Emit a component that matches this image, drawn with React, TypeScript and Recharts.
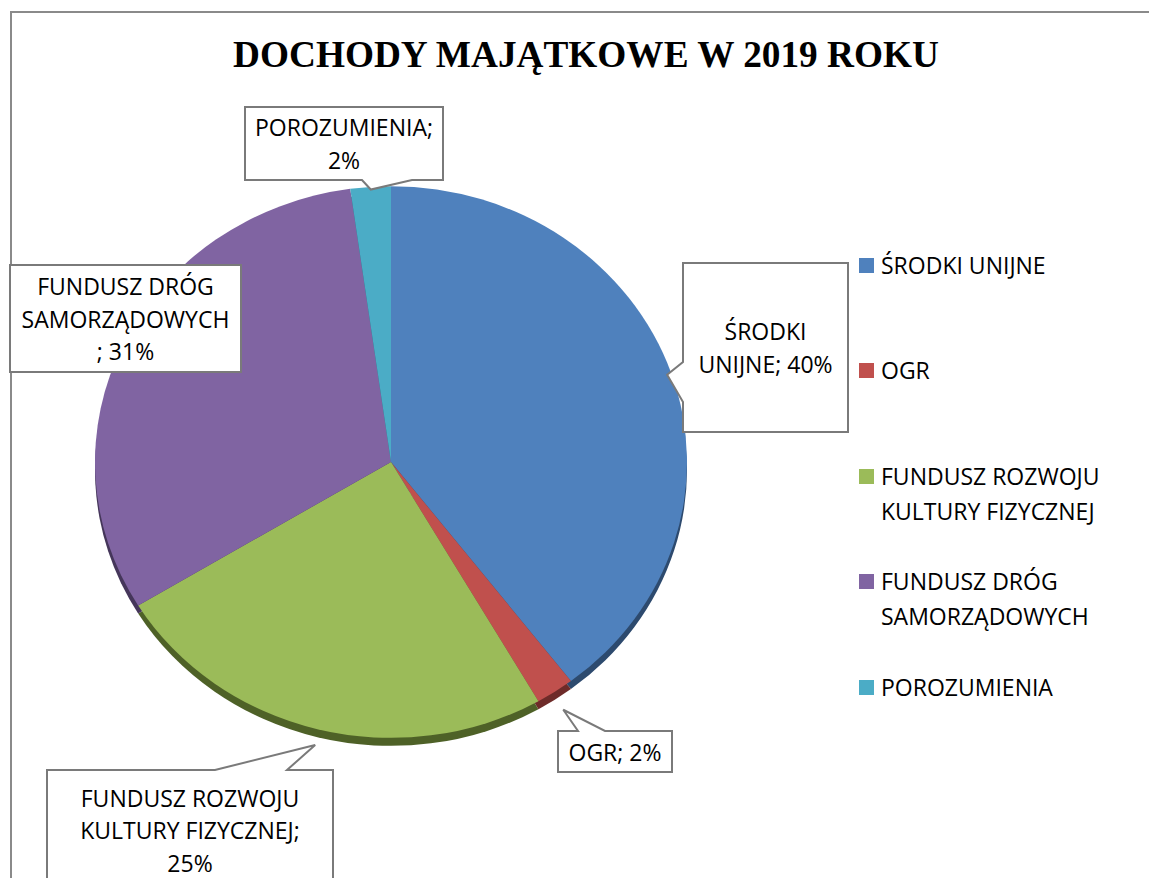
import React from "react";
import { Cell, Legend, Pie, PieChart } from "recharts";

// Dochody majątkowe 2019 — udziały źródeł
const CATEGORIES = [
  "ŚRODKI UNIJNE",
  "OGR",
  "FUNDUSZ ROZWOJU KULTURY FIZYCZNEJ",
  "FUNDUSZ DRÓG SAMORZĄDOWYCH",
  "POROZUMIENIA",
];
const VALUES = [39.6, 2.1, 24.6, 31.5, 2.2];
const COLORS = ["#4F81BD", "#C0504D", "#9BBB59", "#8064A2", "#4BACC6"];
const EDGE_COLORS = ["#2D4A6E", "#6E2B29", "#4E6127", "#45365A", "#2A6878"];

const LEGEND_LINES = [
  ["ŚRODKI UNIJNE"],
  ["OGR"],
  ["FUNDUSZ ROZWOJU", "KULTURY FIZYCZNEJ"],
  ["FUNDUSZ DRÓG", "SAMORZĄDOWYCH"],
  ["POROZUMIENIA"],
];
// "{p}" = procent liczony z VALUES
const DATA_LABEL_LINES = [
  ["ŚRODKI", "UNIJNE; {p}"],
  ["OGR; {p}"],
  ["FUNDUSZ ROZWOJU", "KULTURY FIZYCZNEJ;", "{p}"],
  ["FUNDUSZ DRÓG", "SAMORZĄDOWYCH", "; {p}"],
  ["POROZUMIENIA;", "{p}"],
];

const TITLE = "DOCHODY MAJĄTKOWE W 2019 ROKU";

const data = CATEGORIES.map((name, i) => ({ name, value: VALUES[i] }));
const total = VALUES.reduce((a, b) => a + b, 0);

// layout
const W = 1149;
const H = 878;
const CX = 391;
const CY = 462;
const R = 296;
const K = 0.932; // spłaszczenie (efekt 3D)
const DEPTH = 8;
const FONT = "'Open Sans', 'Noto Sans', sans-serif";
const FS = 23;
const LH = 32.5;

type Side = "left" | "top" | "bottom" | "right" | null;
interface Box {
  x: number;
  y: number;
  w: number;
  h: number;
  side: Side;
  b: number[];
  tipR: number;
}
const LABEL_BOXES: Box[] = [
  { x: 683, y: 263, w: 165, h: 169, side: "left", b: [362, 402], tipR: 0.985 },
  { x: 558, y: 731, w: 114, h: 41, side: "top", b: [578, 605], tipR: 1.05 },
  { x: 47, y: 770, w: 286, h: 120, side: "top", b: [215, 287], tipR: 1.03 },
  { x: 10, y: 265, w: 231, h: 107, side: null, b: [0, 0], tipR: 1 },
  { x: 245, y: 107, w: 198, h: 73, side: "bottom", b: [362, 412], tipR: 0.99 },
];

function calloutPath(bx: Box, ax: number, ay: number): string {
  const x0 = bx.x;
  const y0 = bx.y;
  const x1 = bx.x + bx.w;
  const y1 = bx.y + bx.h;
  const [b0, b1] = bx.b;
  let d = `M${x0},${y0}`;
  if (bx.side === "top") d += ` L${b0},${y0} L${ax},${ay} L${b1},${y0}`;
  d += ` L${x1},${y0}`;
  if (bx.side === "right") d += ` L${x1},${b0} L${ax},${ay} L${x1},${b1}`;
  d += ` L${x1},${y1}`;
  if (bx.side === "bottom") d += ` L${b1},${y1} L${ax},${ay} L${b0},${y1}`;
  d += ` L${x0},${y1}`;
  if (bx.side === "left") d += ` L${x0},${b1} L${ax},${ay} L${x0},${b0}`;
  return d + " Z";
}

const RAD = Math.PI / 180;

function renderLabel(props: any) {
  const { cx, cy, midAngle, outerRadius, index } = props;
  const box = LABEL_BOXES[index];
  const linesRaw = DATA_LABEL_LINES[index];
  if (!box || !linesRaw) return null;
  const r = outerRadius * box.tipR;
  const s = Math.sin(-midAngle * RAD);
  const ax = cx + r * Math.cos(-midAngle * RAD);
  const ay = cy + r * K * s + (s > 0 ? DEPTH * s : 0);
  const pct = `${Math.round((VALUES[index] / total) * 100)}%`;
  const lines = linesRaw.map((l) => l.replace("{p}", pct));
  const midY = box.y + box.h / 2;
  const firstY = midY - ((lines.length - 1) * LH) / 2;
  return (
    <g key={`lbl-${index}`}>
      <path d={calloutPath(box, ax, ay)} fill="#fff" stroke="#7a7a7a" strokeWidth={2} />
      {lines.map((l, i) => (
        <text
          key={i}
          x={box.x + box.w / 2}
          y={firstY + i * LH}
          textAnchor="middle"
          dominantBaseline="central"
          fontFamily={FONT}
          fontSize={FS}
          fill="#000"
        >
          {l}
        </text>
      ))}
    </g>
  );
}

function renderLegend() {
  return (
    <div style={{ fontFamily: FONT, fontSize: FS, color: "#000" }}>
      {LEGEND_LINES.map((lines, i) => (
        <div key={i} style={{ display: "flex", height: 105.5, alignItems: "flex-start" }}>
          <div
            style={{
              width: 15,
              height: 15,
              marginTop: 10,
              marginRight: 7,
              background: COLORS[i],
              flexShrink: 0,
            }}
          />
          <div style={{ lineHeight: "35px" }}>
            {lines.map((l, j) => (
              <div key={j} style={{ whiteSpace: "nowrap" }}>
                {l}
              </div>
            ))}
          </div>
        </div>
      ))}
    </div>
  );
}

const css = `
.pie-main .recharts-sector { transform-box: view-box; transform-origin: ${CX}px ${CY}px; transform: scaleY(${K}); }
.pie-edge .recharts-sector { transform-box: view-box; transform-origin: ${CX}px ${CY + DEPTH}px; transform: scaleY(${K}); }
`;

export default function App() {
  return (
    <div
      style={{
        position: "absolute",
        left: 0,
        top: 0,
        width: W,
        height: H,
        background: "#fff",
        overflow: "hidden",
      }}
    >
      <style>{css}</style>
      <div
        style={{
          position: "absolute",
          left: 10,
          top: 11,
          width: W + 50,
          height: H + 50,
          border: "2px solid #8a8a8a",
        }}
      />
      <svg width={W} height={100} style={{ position: "absolute", left: 0, top: 0 }}>
        <text
          x={586}
          y={67}
          textAnchor="middle"
          fontFamily="'Liberation Serif', 'Times New Roman', serif"
          fontWeight="bold"
          fontSize={37.3}
          fill="#000"
        >
          {TITLE}
        </text>
      </svg>
      <div style={{ position: "absolute", left: 0, top: 0 }}>
        <PieChart width={W} height={H} margin={{ top: 0, right: 0, bottom: 0, left: 0 }}>
          <Pie
            className="pie-edge"
            data={data}
            dataKey="value"
            nameKey="name"
            cx={CX}
            cy={CY + DEPTH}
            outerRadius={R}
            startAngle={90}
            endAngle={-270}
            stroke="none"
            isAnimationActive={false}
            legendType="none"
          >
            {data.map((_, i) => (
              <Cell key={i} fill={EDGE_COLORS[i]} />
            ))}
          </Pie>
          <Pie
            className="pie-main"
            data={data}
            dataKey="value"
            nameKey="name"
            cx={CX}
            cy={CY}
            outerRadius={R}
            startAngle={90}
            endAngle={-270}
            stroke="none"
            isAnimationActive={false}
            label={renderLabel}
            labelLine={false}
          >
            {data.map((_, i) => (
              <Cell key={i} fill={COLORS[i]} />
            ))}
          </Pie>
          <Legend
            layout="vertical"
            align="right"
            verticalAlign="top"
            content={renderLegend}
            wrapperStyle={{ left: 859, top: 247.5, width: 285, right: "auto", bottom: "auto" }}
          />
        </PieChart>
      </div>
    </div>
  );
}
